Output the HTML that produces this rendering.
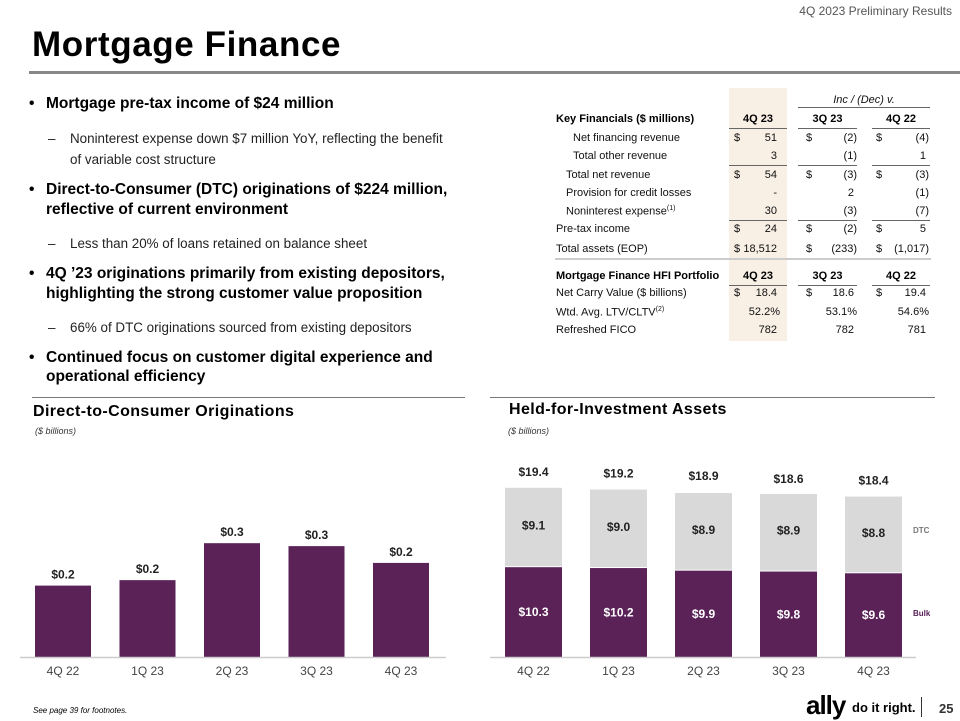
<!DOCTYPE html>
<html><head><meta charset="utf-8"><style>
body{margin:0;width:960px;height:720px;background:#fff;position:relative;overflow:hidden;font-family:"Liberation Sans",sans-serif;color:#000}
.a{position:absolute;white-space:nowrap}
.b{font-weight:bold;font-size:15.5px}
.r{font-size:13.4px;color:#222}
.t{font-size:11px;color:#111}
.tb{font-size:11px;font-weight:bold}
.ln{position:absolute;height:1px;background:#666}
</style></head><body>
<div class="a" style="right:8px;top:4px;font-size:12px;color:#555">4Q 2023 Preliminary Results</div>
<div class="a" style="left:32px;top:25px;font-size:35px;font-weight:bold;color:#000;letter-spacing:0.6px">Mortgage Finance</div>
<div class="a" style="left:29px;top:71px;width:931px;height:3px;background:#888"></div>

<div>
<div class="a b" style="left:29px;top:95px">•</div><div class="a b" style="left:46px;top:95px">Mortgage pre-tax income of $24 million</div>
<div class="a r" style="left:48px;top:131px">–</div><div class="a r" style="left:70px;top:131px">Noninterest expense down $7 million YoY, reflecting the benefit</div>
<div class="a r" style="left:70px;top:152px">of variable cost structure</div>
<div class="a b" style="left:29px;top:181px">•</div><div class="a b" style="left:46px;top:181px">Direct-to-Consumer (DTC) originations of $224 million,</div>
<div class="a b" style="left:46px;top:201px">reflective of current environment</div>
<div class="a r" style="left:48px;top:236px">–</div><div class="a r" style="left:70px;top:236px">Less than 20% of loans retained on balance sheet</div>
<div class="a b" style="left:29px;top:265px">•</div><div class="a b" style="left:46px;top:265px">4Q ’23 originations primarily from existing depositors,</div>
<div class="a b" style="left:46px;top:285px">highlighting the strong customer value proposition</div>
<div class="a r" style="left:48px;top:320px">–</div><div class="a r" style="left:70px;top:320px">66% of DTC originations sourced from existing depositors</div>
<div class="a b" style="left:29px;top:349px">•</div><div class="a b" style="left:46px;top:349px">Continued focus on customer digital experience and</div>
<div class="a b" style="left:46px;top:368px">operational efficiency</div>
</div>

<div>
<div class="a" style="left:729px;top:88px;width:58px;height:253px;background:#f8efe5"></div>
<div class="a t" style="left:798px;top:94px;width:132px;text-align:center;font-style:italic">Inc / (Dec) v.</div>
<div class="ln" style="left:798px;top:107px;width:132px"></div>
<div class="a tb" style="left:556px;top:113px">Key Financials ($ millions)</div>
<div class="a tb" style="left:729px;top:113px;width:58px;text-align:center">4Q 23</div>
<div class="a tb" style="left:798px;top:113px;width:59px;text-align:center">3Q 23</div>
<div class="a tb" style="left:872px;top:113px;width:58px;text-align:center">4Q 22</div>
<div class="ln" style="left:729px;top:128px;width:58px"></div><div class="ln" style="left:798px;top:128px;width:59px"></div><div class="ln" style="left:872px;top:128px;width:58px"></div>
<div id="rows"></div>
<div class="ln" style="left:729px;top:165px;width:58px"></div><div class="ln" style="left:798px;top:165px;width:59px"></div><div class="ln" style="left:872px;top:165px;width:58px"></div>
<div class="ln" style="left:729px;top:220px;width:58px"></div><div class="ln" style="left:798px;top:220px;width:59px"></div><div class="ln" style="left:872px;top:220px;width:58px"></div>
<div class="a" style="left:555px;top:258px;width:376px;height:2px;background:#ccc"></div>
<div class="a tb" style="left:556px;top:270px">Mortgage Finance HFI Portfolio</div>
<div class="a tb" style="left:729px;top:270px;width:58px;text-align:center">4Q 23</div>
<div class="a tb" style="left:798px;top:270px;width:59px;text-align:center">3Q 23</div>
<div class="a tb" style="left:872px;top:270px;width:58px;text-align:center">4Q 22</div>
<div class="ln" style="left:729px;top:285px;width:58px"></div><div class="ln" style="left:798px;top:285px;width:59px"></div><div class="ln" style="left:872px;top:285px;width:58px"></div>
</div>

<div class="a" style="left:32px;top:397px;width:433px;height:1px;background:#777"></div>
<div class="a" style="left:490px;top:397px;width:445px;height:1px;background:#777"></div>
<div class="a" style="left:33px;top:403px;font-size:16px;font-weight:bold;letter-spacing:0.4px">Direct-to-Consumer Originations</div>
<div class="a" style="left:35px;top:426px;font-size:9px;font-style:italic;color:#333">($ billions)</div>
<div class="a" style="left:509px;top:401px;font-size:16px;font-weight:bold;letter-spacing:0.4px">Held-for-Investment Assets</div>
<div class="a" style="left:508px;top:426px;font-size:9px;font-style:italic;color:#333">($ billions)</div>

<svg id="ch" width="960" height="720" style="position:absolute;left:0;top:0" font-family="Liberation Sans, sans-serif"></svg>

<div class="a" style="left:33px;top:706px;font-size:8px;font-style:italic">See page 39 for footnotes.</div>
<div class="a" style="left:806px;top:690px;font-size:26px;font-weight:bold;letter-spacing:-1px">ally</div>
<div class="a" style="left:852px;top:700px;font-size:13px;font-weight:bold">do it right.</div>
<div class="a" style="left:921px;top:697px;width:1px;height:20px;background:#333"></div>
<div class="a" style="left:939px;top:701px;font-size:13px;font-weight:bold;color:#333">25</div>

<script>
const rowLabels=["Net financing revenue","Total other revenue","Total net revenue","Provision for credit losses","Noninterest expense<sup style='font-size:7px'>(1)</sup>","Pre-tax income","Total assets (EOP)","Net Carry Value ($ billions)","Wtd. Avg. LTV/CLTV<sup style='font-size:7px'>(2)</sup>","Refreshed FICO"];
const rowIndent=[17,17,10,10,10,0,0,0,0,0];
const rowY=[132,150,169,187,205,223,243,287,306,324];
const col4Q23=["51","3","54","-","30","24","18,512","18.4","52.2%","782"];
const col3Q23=["(2)","(1)","(3)","2","(3)","(2)","(233)","18.6","53.1%","782"];
const col4Q22=["(4)","1","(3)","(1)","(7)","5","(1,017)","19.4","54.6%","781"];
const dollar=[1,0,1,0,0,1,1,1,0,0];
const rows=document.getElementById('rows');
rowLabels.forEach((l,i)=>{
 let h=`<div class="a t" style="left:${556+rowIndent[i]}px;top:${rowY[i]}px">${l}</div>`;
 const cols=[[col4Q23,734,780],[col3Q23,806,857],[col4Q22,876,929]];
 cols.forEach(([c,dx,right])=>{
  if(dollar[i]) h+=`<div class="a t" style="left:${dx}px;top:${rowY[i]}px">$</div>`;
  const pad=(c[i].endsWith(')')||c[i].endsWith('%'))?0:3;
  h+=`<div class="a t" style="left:${right-80}px;width:${80-pad}px;text-align:right;top:${rowY[i]}px">${c[i]}</div>`;
 });
 const d=document.createElement('div');
 
 
 d.innerHTML=h;rows.appendChild(d);
});

const categories=["4Q 22","1Q 23","2Q 23","3Q 23","4Q 23"];
const dtcOrig=[0.17,0.183,0.271,0.264,0.224];
const hfiBulk=[10.3,10.2,9.9,9.8,9.6];
const hfiDtc=[9.1,9.0,8.9,8.9,8.8];
const hfiTotal=[19.4,19.2,18.9,18.6,18.4];
const NS='http://www.w3.org/2000/svg';
const svg=document.getElementById('ch');
const P='#5a2257';
function mk(t,at,txt){const e=document.createElementNS(NS,t);for(const k in at)e.setAttribute(k,at[k]);if(txt!==undefined)e.textContent=txt;svg.appendChild(e);return e;}
const base=657;
const yL=v=>base-v*420;
const xL=i=>35+i*84.5;
const yR=v=>base-v*8.72;
const xR=i=>505+i*85;
dtcOrig.forEach((v,i)=>{
 const r=mk('rect',{x:xL(i),y:yL(v),width:56,height:base-yL(v),fill:P});
 
 
 const t=mk('text',{x:xL(i)+28,y:yL(v)-7,'text-anchor':'middle','font-size':12,'font-weight':'bold',fill:'#222'},'$'+v.toFixed(1));
 
 
 const c=mk('text',{x:xL(i)+28,y:675,'text-anchor':'middle','font-size':12,fill:'#444'},categories[i]);
 
 
});
mk('line',{x1:20,x2:446,y1:base+0.5,y2:base+0.5,stroke:'#ccc','stroke-width':1.5});
categories.forEach((c,i)=>{
 const b=hfiBulk[i],d=hfiDtc[i];
 const r1=mk('rect',{x:xR(i),y:yR(b),width:57,height:base-yR(b),fill:P});
 
 
 const r2=mk('rect',{x:xR(i),y:yR(b+d),width:57,height:yR(b)-yR(b+d)-1,fill:'#d9d9d9'});
 
 
 const t1=mk('text',{x:xR(i)+28.5,y:(yR(b)+base)/2+4,'text-anchor':'middle','font-size':12,'font-weight':'bold',fill:'#fff'},'$'+b.toFixed(1));
 
 
 const t2=mk('text',{x:xR(i)+28.5,y:(yR(b)+yR(b+d))/2+2,'text-anchor':'middle','font-size':12,'font-weight':'bold',fill:'#222'},'$'+d.toFixed(1));
 
 
 const t3=mk('text',{x:xR(i)+28.5,y:yR(hfiTotal[i])-12,'text-anchor':'middle','font-size':12,'font-weight':'bold',fill:'#222'},'$'+hfiTotal[i].toFixed(1));
 
 
 const cx=mk('text',{x:xR(i)+28.5,y:675,'text-anchor':'middle','font-size':12,fill:'#444'},c);
 
 
});
mk('line',{x1:490,x2:916,y1:base+0.5,y2:base+0.5,stroke:'#ccc','stroke-width':1.5});
const l1=mk('text',{x:913,y:533,'font-size':8,'font-weight':'bold',fill:'#777'},'DTC');


const l2=mk('text',{x:913,y:616,'font-size':8,'font-weight':'bold',fill:P},'Bulk');


</script>
</body></html>
